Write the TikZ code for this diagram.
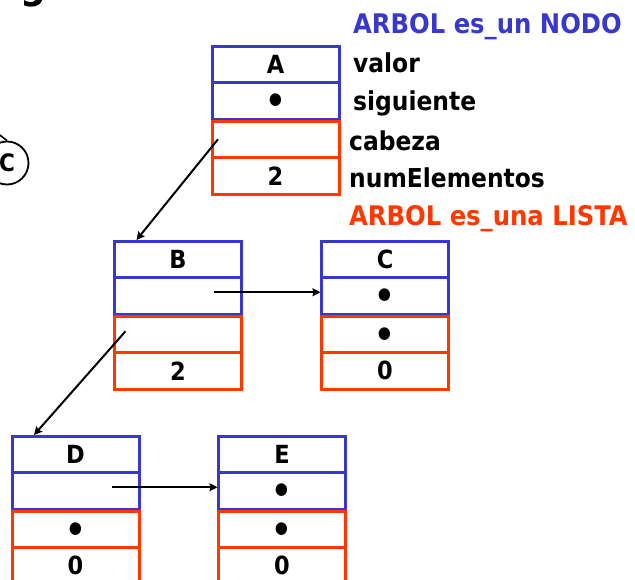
\documentclass[tikz,border=0pt]{standalone}
\usepackage{fontspec}
\usetikzlibrary{arrows.meta}
\newfontfamily\lblfont{DejaVuSansCondensed-Bold.ttf}
\definecolor{nblue}{RGB}{56,56,204}
\definecolor{nred}{RGB}{255,56,0}
\newcommand\treebox[7]{%
  \node[bcell] (#1a) at (#2,#3) {#4};
  \node[bcell] (#1b) at (#2,#3+36.5) {#5};
  \node[rcell] (#1c) at (#2,#3+75) {#6};
  \node[rcell] (#1d) at (#2,#3+111.5) {#7};
}
\newcommand\bul{\fontsize{36}{36}\selectfont\raisebox{-13.2pt}[0pt][0pt]{•}}
\begin{document}
\begin{tikzpicture}[x=1pt,y=-1pt,
  cell/.style={draw, line width=3pt, minimum width=127pt, minimum height=36.5pt,
    inner sep=0pt, outer sep=0pt, anchor=north west,
    font=\lblfont\fontsize{25}{25}\selectfont},
  bcell/.style={cell, draw=nblue},
  rcell/.style={cell, draw=nred},
  lbl/.style={anchor=base west, inner sep=0pt, font=\lblfont\fontsize{26}{26}\selectfont},
  head/.style={lbl, font=\lblfont\fontsize{27}{27}\selectfont},
  ptr/.style={line width=2pt, -{Stealth[length=8pt,width=8pt,inset=1pt]}}]
\useasboundingbox (0,0) rectangle (635,579);
\clip (0,0) rectangle (635,579);
% partial title glyph and circle from the cut-off slide
\node[anchor=base, inner sep=0pt, font=\lblfont\fontsize{40}{40}\selectfont] (titleg) at (33,-2) {g};
\node[draw, circle, line width=1.8pt, minimum size=43pt, inner sep=0pt,
  font=\lblfont\fontsize{24}{24}\selectfont] (circC) at (7,163) {C};
\coordinate (cin) at (-30,112);
\draw[line width=1.6pt] (cin) -- (circC.north);
% boxes
\treebox{A}{212}{46}{A}{\bul}{}{2}
\treebox{B}{114.5}{241}{B}{}{}{2}
\treebox{C}{321.5}{241}{C}{\bul}{\bul}{0}
\treebox{D}{12}{436}{D}{}{\bul}{0}
\treebox{E}{218.5}{436}{E}{\bul}{\bul}{0}
% labels
\node[head, text=nblue] (lnodo) at (353,33) {ARBOL es\_un NODO};
\node[lbl] (lvalor) at (353,72) {valor};
\node[lbl] (lsig) at (353,110) {siguiente};
\node[lbl] (lcab) at (349,150) {cabeza};
\node[lbl] (lnum) at (349,187) {numElementos};
\node[head, text=nred] (llista) at (349,225) {ARBOL es\_una LISTA};
% pointers
\draw[ptr] ([xshift=6pt]Ac.west) -- ([xshift=22pt,yshift=1pt]Ba.north west);
\draw[ptr] ([xshift=-28pt,yshift=3.5pt]Bb.east) -- ([xshift=-1pt,yshift=3.5pt]Cb.west);
\draw[ptr] ([xshift=11pt,yshift=3pt]Bc.west) -- ([xshift=22pt,yshift=1pt]Da.north west);
\draw[ptr] ([xshift=-27pt,yshift=3.5pt]Db.east) -- ([xshift=-1pt,yshift=3.5pt]Eb.west);
\end{tikzpicture}
\end{document}
